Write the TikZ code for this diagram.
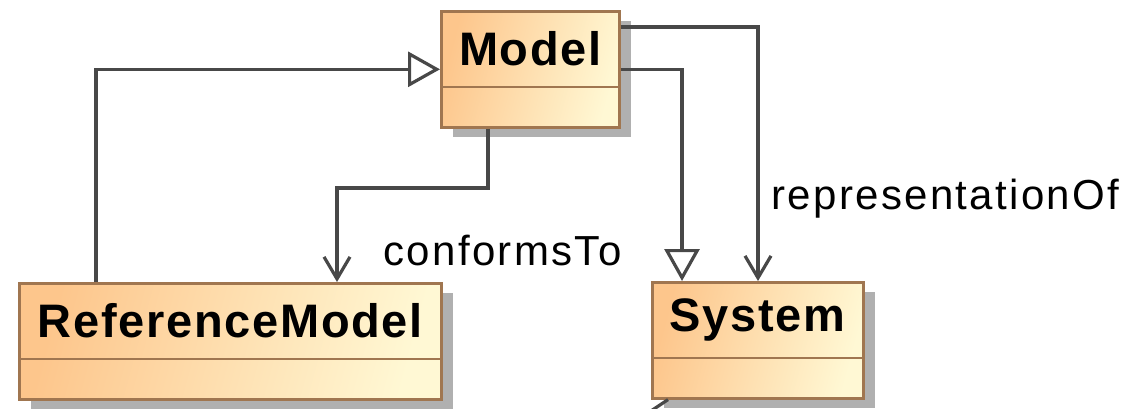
\documentclass[tikz,border=0pt]{standalone}
\usepackage{fontspec}
\setmainfont{Liberation Sans}
\usetikzlibrary{arrows.meta,shadows}
\definecolor{classorange}{RGB}{253,198,140}
\definecolor{classyellow}{RGB}{255,248,212}
\definecolor{classborder}{RGB}{160,118,80}
\definecolor{classshadow}{RGB}{176,176,176}
\definecolor{linkgray}{RGB}{72,72,72}
\begin{document}
\begin{tikzpicture}[x=0.5pt, y=-0.5pt,
    umlclass/.style={draw=classborder, line width=1.3pt, left color=classorange, right color=classyellow, shading angle=75, minimum height=58pt, inner sep=0pt, anchor=north west, drop shadow={shadow xshift=6pt, shadow yshift=-5pt, fill=classshadow, opacity=1}},
    classname/.style={font=\fontsize{23.5}{28}\selectfont\bfseries\addfontfeature{LetterSpace=3.6}},
    link/.style={draw=linkgray, line width=1.6pt},
    gen/.style={link, -{Triangle[open, length=16pt, width=17.5pt]}},
    assoc/.style={link, -{Straight Barb[length=11pt, width=13pt]}},
    linklabel/.style={font=\fontsize{21}{25}\selectfont\addfontfeature{LetterSpace=5.5}, inner sep=0pt, anchor=base west}]
\useasboundingbox (0,0) rectangle (1139,408);

\foreach \name/\x/\y/\w/\txt in {model/440/10/89/Model, refmodel/18/282/211/ReferenceModel, system/651/281/105.5/System}
{
    \node[umlclass, minimum width=\w pt] (\name) at (\x,\y) {};
    \draw[classborder, line width=1.3pt] ([yshift=-38.5pt]\name.north west) -- ([yshift=-38.5pt]\name.north east);
    \node[classname] (\name-title) at ([yshift=-19.5pt]\name.north) {\txt};
}

\draw[gen] ([xshift=39pt]refmodel.north west) |- (model.west);
\draw[assoc] ([xshift=24pt]model.south west) |- ([xshift=159.5pt, yshift=47pt]refmodel.north west)
    -- ([xshift=159.5pt]refmodel.north west) node[linklabel, xshift=22.5pt, yshift=8.5pt] (conforms) {conformsTo};
\draw[gen] (model.east) -| ([xshift=15.5pt]system.north west);
\draw[assoc] ([yshift=-8.5pt]model.north east) -| ([xshift=53.5pt]system.north west)
    node[linklabel, xshift=6pt, yshift=36pt] (reprof) {representationOf};
\draw[link] ([xshift=8.5pt]system.south west) -- ++(-18,12);
\end{tikzpicture}
\end{document}
